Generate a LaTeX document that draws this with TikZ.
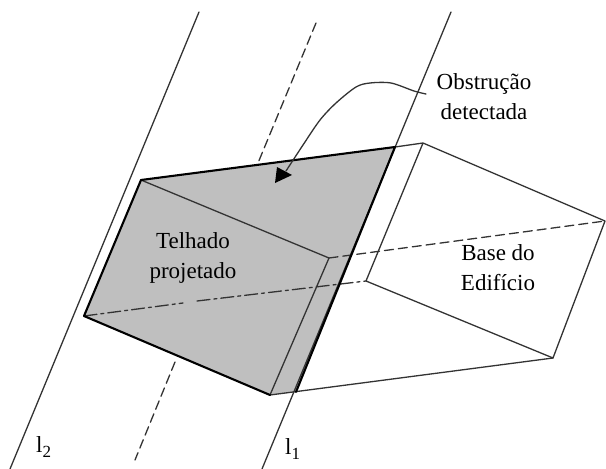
\documentclass[tikz,border=0pt]{standalone}
\usepackage{fontspec}
\setmainfont{Liberation Serif}
\definecolor{roofgray}{gray}{0.75}
\newcommand{\subnum}[1]{\raisebox{-5pt}{\fontsize{17}{17}\selectfont #1}}
\tikzset{
	edge/.style={line width=1.3pt, black!80},
	heavy/.style={line width=2.1pt, black},
	hidden/.style={line width=1.3pt, black!80, dash pattern=on 9pt off 5pt},
	axisline/.style={line width=1.3pt, black!80, dash pattern=on 13pt off 4pt on 3pt off 4pt},
	lbl/.style={align=center, inner sep=0pt, font=\fontsize{23}{30}\selectfont}
}
\begin{document}
\begin{tikzpicture}[line cap=round, line join=round, x=1pt, y=-1pt]
	\useasboundingbox (0,0) rectangle (606,469);
	% Pontos do telhado
	\coordinate (A) at (141,180);
	\coordinate (B) at (395,147);
	\coordinate (C) at (296,392);
	\coordinate (D) at (270,395);
	\coordinate (E) at (84,316);
	\coordinate (F) at (329,258);
	% Pontos da base
	\coordinate (P) at (423,143);
	\coordinate (Q) at (605,221);
	\coordinate (R) at (553,358);
	\coordinate (S) at (366,281);
	
	% Telhado projetado
	\fill[roofgray] (A) -- (B) -- (C) -- (D) -- (E) -- cycle;
	
	% Retas l1 e l2
	\draw[edge] (199,12) -- (10,469);
	\draw[edge] (451,12) -- (262,469);
	\draw[hidden] (316,23) -- (258,163);
	\draw[hidden] (175,362) -- (135,460);
	
	% Arestas
	\draw[edge] (A) -- (F) -- (D);
	\draw[edge] (B) -- (P) -- (Q) -- (R) -- (S) -- (P);
	\draw[edge] (D) -- (R);
	\draw[hidden] (F) -- (Q);
	\draw[axisline] (E) -- (183,303);
	\draw[axisline] (197,301) -- (S);
	\draw[heavy] (E) -- (A) -- (B) -- (C);
	\draw[heavy] (E) -- (D);
	
	% Seta da obstrucao
	\draw[edge] plot[smooth, tension=0.5] coordinates {(426,94) (414,91) (391,83) (370,83) (356,87) (336,103) (320,120) (303,145) (286,171)};
	\fill (277,167) -- (292,175) -- (275,183) -- cycle;
	
	% Textos
	\node[lbl] (obstrucao) at (484,97) {Obstrução\\detectada};
	\node[lbl] (telhado) at (193,258) {Telhado\\projetado};
	\node[lbl] (base) at (498,268) {Base do\\Edifício};
	\node[lbl, anchor=base west] (l2) at (36,452) {l\subnum{2}};
	\node[lbl, anchor=base west] (l1) at (285,454) {l\subnum{1}};
\end{tikzpicture}
\end{document}
